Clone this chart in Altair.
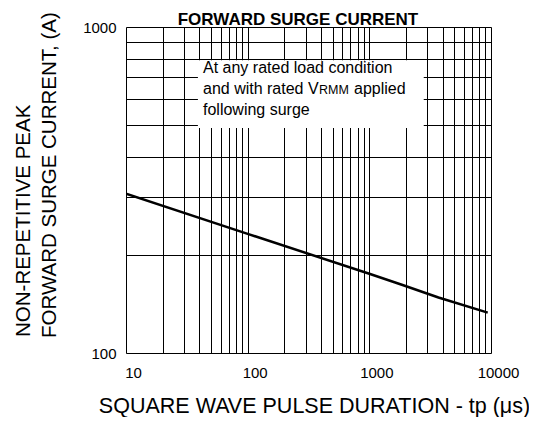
import altair as alt
import pandas as pd

# ---- data ----
tp_us = [10, 100, 1000, 1850, 3700, 9400]
ifsm_a = [308, 232, 175, 162, 148, 133]

x_grid = [10, 20, 30, 40, 50, 60, 70, 80, 90,
          100, 200, 300, 400, 500, 600, 700, 800, 900,
          1000, 2000, 3000, 4000, 5000, 6000, 7000, 8000, 9000, 10000]
y_grid = [100, 200, 300, 400, 500, 600, 700, 800, 900, 1000]
x_labels = [10, 100, 1000, 10000]
y_labels = [100, 1000]

box_x = [39, 2800]
box_y = [790, 490]

title_text = "FORWARD SURGE CURRENT"
x_title = "SQUARE WAVE PULSE DURATION - tp (\u03bcs)"
y_title_1 = "NON-REPETITIVE PEAK"
y_title_2 = "FORWARD SURGE CURRENT, (A)"
note_1 = "At any rated load condition"
note_2a = "and with rated"
note_2b = "V"
note_2c = "RMM"
note_2d = "applied"
note_3 = "following surge"

FONT = "Liberation Sans"

df = pd.DataFrame({"tp": tp_us, "ifsm": ifsm_a})
xscale = alt.Scale(type="log", domain=[10, 10000], nice=False)
yscale = alt.Scale(type="log", domain=[100, 1000], nice=False)

xlab = "indexof(%s, datum.value) >= 0 ? format(datum.value, 'd') : ''" % str(x_labels)
ylab = "indexof(%s, datum.value) >= 0 ? format(datum.value, 'd') : ''" % str(y_labels)

x_axis = alt.Axis(values=x_grid, labelExpr=xlab, format="d", grid=True,
                  gridColor="black", gridOpacity=1, gridWidth=1, ticks=False,
                  domain=False, labelFont=FONT, labelFontSize=15, labelColor="black",
                  labelPadding=12, labelOffset=7, labelOverlap=False, labelFlush=False,
                  title=x_title, titleFont=FONT, titleFontSize=21.5,
                  titleFontWeight="normal", titleColor="black",
                  titleX=188, titleY=59, titleAlign="center",
                  titleBaseline="alphabetic")
y_axis = alt.Axis(values=y_grid, labelExpr=ylab, format="d", grid=True,
                  gridColor="black", gridOpacity=1, gridWidth=1, ticks=False,
                  domain=False, labelFont=FONT, labelFontSize=15, labelColor="black",
                  labelPadding=10, labelOverlap=False, labelFlush=False, title=None)

line = alt.Chart(df).mark_line(color="black", strokeWidth=2.5, clip=True).encode(
    x=alt.X("tp:Q", scale=xscale, axis=x_axis),
    y=alt.Y("ifsm:Q", scale=yscale, axis=y_axis),
)

box_df = pd.DataFrame({"x": [box_x[0]], "x2": [box_x[1]], "y": [box_y[0]], "y2": [box_y[1]]})
box = alt.Chart(box_df).mark_rect(color="white", opacity=1).encode(
    x=alt.X("x:Q", scale=xscale), x2="x2:Q",
    y=alt.Y("y:Q", scale=yscale), y2="y2:Q",
)


def txt(s, x, y, size, angle=0, weight="normal", align="left", baseline="alphabetic"):
    kw = dict(font=FONT, fontSize=size, color="black", align=align,
              baseline=baseline, fontWeight=weight)
    if angle:
        kw["angle"] = angle
    return alt.Chart(pd.DataFrame({"t": [s]})).mark_text(**kw).encode(
        text="t:N", x=alt.value(x), y=alt.value(y))


texts = [
    txt(note_1, 77, 45.5, 16),
    txt(note_2a, 77, 67, 16),
    txt(note_2b, 182, 67, 16),
    txt(note_2c, 193, 67, 12.5),
    txt(note_2d, 228, 67, 16),
    txt(note_3, 77, 87.5, 16),
    txt(title_text, 172, -2.5, 17, weight="bold", align="center"),
    txt(y_title_1, -102, 310, 20.5, angle=270, baseline="middle"),
    txt(y_title_2, -76, 311, 20.5, angle=270, baseline="middle"),
]

chart = alt.layer(box, line, *texts).properties(
    width=365, height=326,
    padding={"left": 118, "top": 19, "right": 38, "bottom": 64},
    autosize=alt.AutoSizeParams(type="none"),
).configure_view(strokeWidth=0).configure(background="white")

chart.save("out.html", embed_options={"renderer": "svg", "actions": False})
